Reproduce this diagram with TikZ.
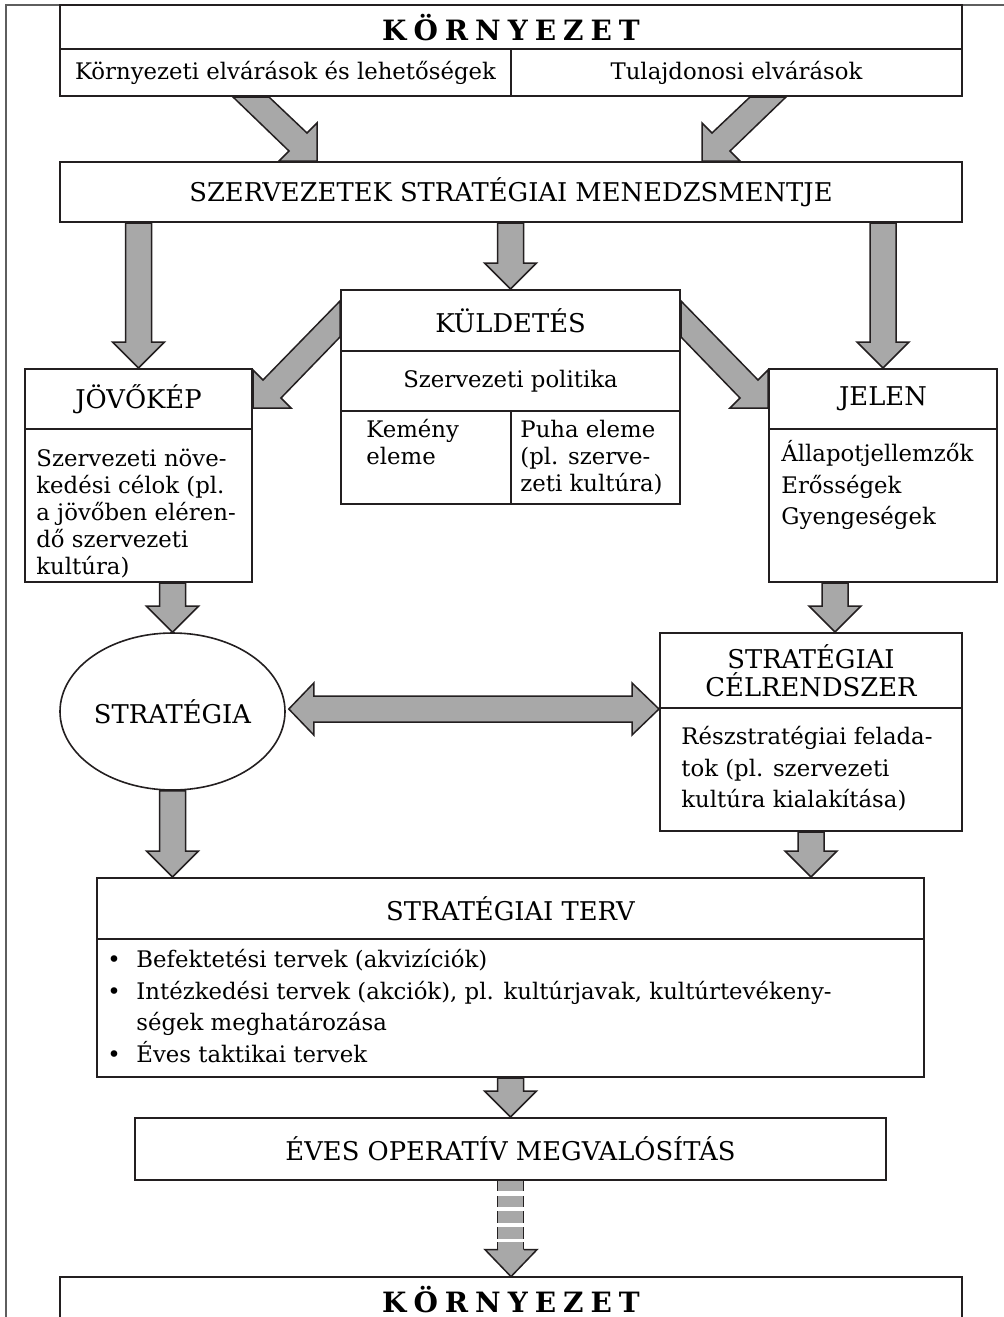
\documentclass[tikz,border=0pt]{standalone}
\usepackage{fontspec}
\setmainfont{DejaVu Serif}
\usetikzlibrary{calc,positioning,shapes.geometric}
\definecolor{ArrowGrey}{HTML}{A8A8A8}
\definecolor{InkBlack}{HTML}{231F20}
\definecolor{FrameGrey}{HTML}{5E5E5E}
\newlength{\px}
\setlength{\px}{0.5pt}
\newcommand{\bodyfont}{\fontsize{11.4}{13.5}\selectfont}
\newcommand{\loosefont}{\fontsize{11.4}{15.8}\selectfont}
\newcommand{\headfont}{\fontsize{12.9}{14}\selectfont}
\newcommand{\envfont}{\fontsize{14}{16}\selectfont\bfseries}
\newcommand{\spaced}[1]{\spacedaux#1\relax}
\def\spacedaux#1#2{#1\ifx#2\relax\else\kern3.5pt\relax\expandafter\spacedaux\expandafter#2\fi}
\tikzset{
  box/.style={draw=InkBlack, line width=1pt, inner sep=0pt, font=\headfont},
  envword/.style={text depth=0pt, font=\envfont},
  celltext/.style={inner sep=0pt, anchor=north west, align=left, font=\bodyfont},
  loosetext/.style={celltext, font=\loosefont},
  blockarrow/.style={draw=InkBlack, fill=ArrowGrey, line width=0.75pt},
  framerule/.style={FrameGrey, line width=0.9pt}
}
% straight block arrow, #1 = root on the source edge, #2 = tip
\newcommand{\vblock}[2]{%
  \draw[blockarrow] ($(#1)+(-13,0)$) -- ($(#2)+(-13,-26)$) -- ($(#2)+(-26,-26)$)
    -- (#2) -- ($(#2)+(26,-26)$) -- ($(#2)+(13,-26)$) -- ($(#1)+(13,0)$) -- cycle;}
% slanted block arrow, #1 = side (+1 / -1), #2 #3 = roots, #4 = corner tip
\newcommand{\diagblock}[4]{%
  \draw[blockarrow] (#2) -- ($(#4)+(#1*10,-28)$) -- ($(#4)+(0,-38)$) -- (#4)
    -- ($(#4)+(#1*38,0)$) -- ($(#4)+(#1*28,-10)$) -- (#3) -- cycle;}

\begin{document}
\begin{tikzpicture}[x=0.5pt, y=-0.5pt]
  \useasboundingbox (0,0) rectangle (1004,1317);
  \draw[framerule] (6,1317) -- (6,5) -- (1004,5);

  % environment
  \node[box, envword, text height=13pt, minimum width=902\px, minimum height=44\px] (env) at (511,27) {\spaced{KÖRNYEZET}};
  \node[box, font=\bodyfont, minimum width=451\px, minimum height=47\px] (envL) at (285.5,72.5) {Környezeti elvárások és lehetőségek};
  \node[box, font=\bodyfont, minimum width=451\px, minimum height=47\px] (envR) at (736.5,72.5) {Tulajdonosi elvárások};
  \node[box, minimum width=902\px, minimum height=60\px] (szm) at (511,192) {SZERVEZETEK STRATÉGIAI MENEDZSMENTJE};

  % mission
  \node[box, minimum width=339\px, minimum height=61\px] (kuld) at (510.5,320.5) {KÜLDETÉS};
  \node[box, font=\bodyfont, minimum width=339\px, minimum height=60\px] (polit) at (510.5,381) {Szervezeti politika};
  \node[box, minimum width=170\px, minimum height=93\px] (kem) at (426,457.5) {};
  \node[box, minimum width=169\px, minimum height=93\px] (puha) at (595.5,457.5) {};
  \node[celltext] (kemtxt) at ($(kem.north west)+(26,8)$) {\strut Kemény\\eleme};
  \node[celltext] (puhatxt) at ($(puha.north west)+(10,8)$) {\strut Puha eleme\\(pl. szerve-\\zeti kultúra)};

  % vision and present state
  \node[box, minimum width=227\px, minimum height=60\px] (jov) at (138.5,399) {JÖVŐKÉP};
  \node[box, minimum width=227\px, minimum height=153\px] (jovbody) at (138.5,505.5) {};
  \node[celltext] (jovtxt) at ($(jovbody.north west)+(12,19)$) {\strut Szervezeti növe-\\kedési célok (pl.\\a jövőben eléren-\\dő szervezeti\\kultúra)};
  \node[box, minimum width=228\px, minimum height=60\px] (jelen) at (883,399) {JELEN};
  \node[box, minimum width=228\px, minimum height=153\px] (jelenbody) at (883,505.5) {};
  \node[loosetext] (jelentxt) at ($(jelenbody.north west)+(13,11)$) {\strut Állapotjellemzők\\Erősségek\\Gyengeségek};

  % strategy and goals
  \node[draw=InkBlack, line width=0.8pt, ellipse, inner sep=0pt, font=\headfont,
        minimum width=225\px, minimum height=157\px] (strat) at (172.5,711.5) {STRATÉGIA};
  \node[box, align=center, minimum width=302\px, minimum height=75\px] (celhead) at (811,670.5) {STRATÉGIAI\\CÉLRENDSZER};
  \node[box, minimum width=302\px, minimum height=123\px] (celbody) at (811,769.5) {};
  \node[loosetext] (celtxt) at ($(celbody.north west)+(22,15)$) {\strut Részstratégiai felada-\\tok (pl. szervezeti\\kultúra kialakítása)};

  % plan
  \node[box, minimum width=827\px, minimum height=61\px] (terv) at (510.5,908.5) {STRATÉGIAI TERV};
  \node[box, minimum width=827\px, minimum height=138\px] (tervbody) at (510.5,1008) {};
  \node[loosetext] (tervtxt) at ($(tervbody.north west)+(11,7)$) {%
    \strut\makebox[14.5pt][l]{\textbullet}Befektetési tervek (akvizíciók)\\
    \makebox[14.5pt][l]{\textbullet}Intézkedési tervek (akciók), pl. kultúrjavak, kultúrtevékeny-\\
    \hspace*{14.5pt}ségek meghatározása\\
    \makebox[14.5pt][l]{\textbullet}Éves taktikai tervek};
  \node[box, minimum width=751\px, minimum height=62\px] (eves) at (510.5,1149) {ÉVES OPERATÍV MEGVALÓSÍTÁS};
  \node[envword, inner sep=0pt, text height=15pt, minimum width=902\px, minimum height=40\px] (env2) at (511,1297) {\spaced{KÖRNYEZET}};
  \draw[InkBlack, line width=1pt] (env2.south west) -- (env2.north west) -- (env2.north east) -- (env2.south east);

  % arrows
  \diagblock{-1}{$(envL.south west)+(210,0)$}{$(envL.south west)+(174,0)$}{$(szm.north west)+(258,0)$}
  \diagblock{1}{$(envR.south west)+(240,0)$}{$(envR.south west)+(276,0)$}{$(szm.north west)+(643,0)$}
  \vblock{szm.south -| jov.north}{jov.north}
  \vblock{szm.south -| kuld.north}{kuld.north}
  \vblock{szm.south -| jelen.north}{jelen.north}
  \diagblock{1}{$(kuld.north west)+(0,12)$}{$(kuld.north west)+(0,48)$}{$(jov.north east)+(0,40)$}
  \diagblock{-1}{$(kuld.north east)+(0,12)$}{$(kuld.north east)+(0,48)$}{$(jelen.north west)+(0,40)$}
  \vblock{jovbody.south -| strat.north}{strat.north}
  \coordinate (jc) at ($(jelenbody.south)+(-48,0)$);
  \vblock{jc}{celhead.north -| jc}
  \coordinate (dl) at ($(celhead.south west -| strat.east)+(3,0)$);
  \draw[blockarrow] (dl) -- ($(dl)+(25,-26)$) -- ($(dl)+(25,-13)$) -- ($(celhead.south west)+(-27,-13)$)
    -- ($(celhead.south west)+(-27,-26)$) -- (celhead.south west) -- ($(celhead.south west)+(-27,26)$)
    -- ($(celhead.south west)+(-27,13)$) -- ($(dl)+(25,13)$) -- ($(dl)+(25,26)$) -- cycle;
  \vblock{strat.south}{terv.north -| strat.south}
  \vblock{celbody.south}{terv.north -| celbody.south}
  \vblock{tervbody.south}{eves.north}
  \foreach \a/\b in {0/10,15/26,30/42,46/58,61/70} {
    \fill[ArrowGrey] ($(eves.south)+(-13,\a)$) rectangle ($(eves.south)+(13,\b)$);
    \draw[InkBlack, line width=0.75pt] ($(eves.south)+(-13,\a)$) -- ($(eves.south)+(-13,\b)$)
      ($(eves.south)+(13,\a)$) -- ($(eves.south)+(13,\b)$);
  }
  \draw[blockarrow] ($(env2.north)+(-13,-27)$) -- ($(env2.north)+(-26,-27)$) -- (env2.north)
    -- ($(env2.north)+(26,-27)$) -- ($(env2.north)+(13,-27)$);
\end{tikzpicture}
\end{document}
